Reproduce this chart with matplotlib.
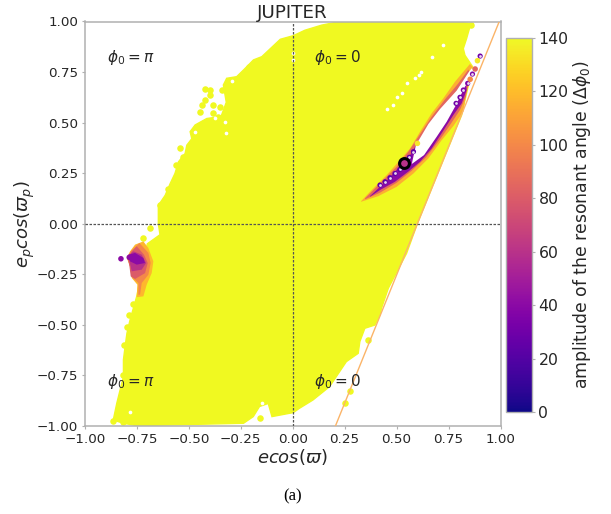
import matplotlib
matplotlib.use("Agg")
import matplotlib.pyplot as plt
from matplotlib.cm import ScalarMappable
from matplotlib.colors import Normalize

# outline of the region with amplitude 140 (yellow)
region_x = [0.003, 0.059, 0.139, 0.228, 0.749, 0.870, 0.853, 0.846, 0.837, 0.821, 0.829, 0.861,
            0.866, 0.833, 0.813, 0.600, 0.548, 0.460, 0.427, 0.420, 0.395, 0.347, 0.323, 0.315,
            0.258, 0.177, 0.097, 0.032, 0.003, -0.100, -0.118, -0.160, -0.190, -0.237, -0.750, -0.815,
            -0.864, -0.847, -0.815, -0.815, -0.807, -0.798, -0.783, -0.751, -0.719, -0.700, -0.639,
            -0.647, -0.647, -0.614, -0.590, -0.567, -0.550, -0.518, -0.510, -0.486, -0.494, -0.470,
            -0.414, -0.345, -0.320, -0.334, -0.318, -0.270, -0.237, -0.189, -0.149, -0.060]
region_y = [0.930, 0.957, 0.982, 1.000, 1.000, 0.990, 0.974, 0.949, 0.916, 0.866, 0.833, 0.784,
            0.776, 0.628, 0.537, 0.000, -0.147, -0.320, -0.419, -0.452, -0.502, -0.518, -0.584, -0.642,
            -0.683, -0.807, -0.873, -0.914, -0.935, -0.955, -0.890, -0.905, -0.955, -0.988, -1.000, -0.988,
            -0.972, -0.889, -0.757, -0.674, -0.608, -0.542, -0.476, -0.360, -0.200, -0.100, -0.055,
            0.000, 0.090, 0.140, 0.198, 0.248, 0.306, 0.347, 0.388, 0.420, 0.455, 0.488,
            0.520, 0.530, 0.600, 0.686, 0.719, 0.727, 0.760, 0.810, 0.826, 0.912]

# loose yellow points along the edge of the region
loose_x = [-0.422, -0.398, -0.398, -0.422, -0.438, -0.446, -0.382, -0.382, -0.358, -0.326, -0.318,
           -0.350, -0.342, -0.543, -0.563, -0.209, -0.639, -0.687, -0.720, -0.864, -0.815, -0.157,
           -0.799, -0.812, -0.815, 0.363, 0.274, 0.250, 0.860, -0.600, -0.530, -0.770, -0.790, -0.830]
loose_y = [0.664, 0.661, 0.636, 0.612, 0.587, 0.554, 0.587, 0.549, 0.526, 0.463, 0.545,
           0.579, 0.661, 0.375, 0.288, 0.777, 0.090, -0.020, -0.070, -0.975, -0.980, -0.964,
           -0.513, -0.600, -0.750, -0.576, -0.827, -0.889, 0.985, 0.170, 0.330, -0.400, -0.450, -0.880]

# small white gaps in the yellow region
gap_x = [0.452, 0.481, 0.504, 0.524, 0.548, 0.589, 0.609, 0.616, 0.669, 0.725,
         -0.294, -0.470, -0.323, -0.326, -0.374, -0.783, -0.149, 0.003, 0.003]
gap_y = [0.567, 0.587, 0.625, 0.644, 0.694, 0.722, 0.735, 0.752, 0.826, 0.884,
         0.707, 0.455, 0.446, 0.504, 0.521, -0.931, -0.889, 0.843, 0.810]

# crescent on the right, three amplitude levels
crescent_levels = [115, 85, 40]
crescent_x = [
    [0.329, 0.380, 0.452, 0.516, 0.565, 0.613, 0.669, 0.725, 0.781, 0.853, 0.866, 0.837, 0.833,
     0.821, 0.773, 0.717, 0.653, 0.581, 0.500, 0.412, 0.329],
    [0.348, 0.436, 0.500, 0.557, 0.610, 0.669, 0.733, 0.797, 0.846, 0.854, 0.833, 0.805, 0.757,
     0.706, 0.642, 0.573, 0.500, 0.420, 0.348],
    [0.372, 0.420, 0.468, 0.516, 0.565, 0.589, 0.621, 0.677, 0.741, 0.805, 0.833, 0.837, 0.813,
     0.773, 0.725, 0.669, 0.613, 0.556, 0.492, 0.420, 0.372],
]
crescent_y = [
    [0.111, 0.166, 0.240, 0.314, 0.372, 0.455, 0.546, 0.620, 0.702, 0.790, 0.776, 0.702, 0.628,
     0.554, 0.483, 0.413, 0.323, 0.248, 0.182, 0.136, 0.108],
    [0.125, 0.215, 0.281, 0.356, 0.438, 0.529, 0.615, 0.694, 0.763, 0.727, 0.628, 0.562, 0.488,
     0.413, 0.328, 0.262, 0.202, 0.153, 0.120],
    [0.136, 0.182, 0.229, 0.285, 0.339, 0.380, 0.430, 0.512, 0.595, 0.669, 0.702, 0.661, 0.595,
     0.537, 0.460, 0.372, 0.306, 0.257, 0.207, 0.166, 0.133],
]

# empty lens inside the crescent
lens_x = [0.573, 0.593, 0.653, 0.709, 0.789, 0.846, 0.861, 0.885, 0.829, 0.813, 0.781, 0.741, 0.693, 0.632]
lens_y = [0.295, 0.389, 0.493, 0.567, 0.658, 0.748, 0.768, 0.752, 0.678, 0.644, 0.578, 0.504, 0.430, 0.339]

# single points with their amplitudes
ring_x = [0.420, 0.444, 0.468, 0.492, 0.516, 0.540, 0.561, 0.581, 0.786, 0.805, 0.821, 0.842, 0.865, 0.902]
ring_y = [0.191, 0.207, 0.227, 0.248, 0.268, 0.290, 0.328, 0.356, 0.595, 0.625, 0.661, 0.694, 0.740, 0.829]
ring_amp = [25, 25, 25, 25, 25, 25, 25, 25, 30, 30, 35, 35, 35, 30]
dot_x = [0.600, 0.854, 0.878, 0.889, -0.827, -0.787]
dot_y = [0.397, 0.714, 0.765, 0.806, -0.174, -0.167]
dot_amp = [135, 100, 85, 135, 40, 40]

# patch on the left
patch_levels = [118, 100, 80, 60, 40]
patch_x = [
    [-0.719, -0.695, -0.671, -0.679, -0.703, -0.719, -0.751, -0.748, -0.775, -0.783, -0.799, -0.783, -0.759],
    [-0.738, -0.695, -0.684, -0.695, -0.727, -0.735, -0.743, -0.743, -0.775, -0.783, -0.796, -0.780],
    [-0.751, -0.716, -0.698, -0.711, -0.759, -0.780, -0.786, -0.794, -0.775],
    [-0.767, -0.727, -0.706, -0.727, -0.775, -0.786, -0.794],
    [-0.791, -0.759, -0.719, -0.711, -0.751, -0.783],
]
patch_y = [
    [-0.088, -0.121, -0.187, -0.245, -0.302, -0.360, -0.364, -0.302, -0.269, -0.212, -0.170, -0.137, -0.104],
    [-0.096, -0.145, -0.195, -0.253, -0.294, -0.352, -0.352, -0.294, -0.264, -0.212, -0.170, -0.137],
    [-0.112, -0.154, -0.195, -0.245, -0.274, -0.261, -0.212, -0.170, -0.137],
    [-0.137, -0.154, -0.195, -0.228, -0.236, -0.187, -0.162],
    [-0.154, -0.145, -0.170, -0.195, -0.203, -0.187],
]

# limit line and the marked planet
limit_x = [0.206, 0.994]
limit_y = [-1.0, 1.0]
planet_x = [0.536]
planet_y = [0.298]
planet_amp = [60]

ticks = [-1.0, -0.75, -0.5, -0.25, 0.0, 0.25, 0.5, 0.75, 1.0]
cbar_ticks = [0, 20, 40, 60, 80, 100, 120, 140]

text_col = "#262626"
frame_col = "#b0b0b0"
cmap = plt.get_cmap("plasma")
norm = Normalize(0, 140)

fig = plt.figure(figsize=(6.11, 5.14), dpi=100)
ax = fig.add_axes([85 / 611, 1 - 425.7 / 514, 415.5 / 611, 404.2 / 514])

ax.fill(region_x, region_y, color=cmap(norm(140)), lw=1, zorder=1)
ax.scatter(loose_x, loose_y, s=22, color=cmap(norm(140)), lw=0, zorder=1)
ax.scatter(gap_x, gap_y, s=7, color="white", lw=0, zorder=1.5)

for lev, xs, ys in zip(crescent_levels, crescent_x, crescent_y):
    ax.fill(xs, ys, color=cmap(norm(lev)), lw=0, zorder=2)
for lev, xs, ys in zip(patch_levels, patch_x, patch_y):
    ax.fill(xs, ys, color=cmap(norm(lev)), lw=0, zorder=2)
ax.fill(lens_x, lens_y, color="white", lw=0, zorder=2.5)

ax.plot(limit_x, limit_y, color="#fbb468", lw=1, zorder=2.6)
ax.scatter(ring_x, ring_y, s=14, c=ring_amp, cmap=cmap, norm=norm, lw=0, zorder=3)
ax.scatter(ring_x, ring_y, s=4, color="#e8d8ee", lw=0, zorder=3.1)
ax.scatter(dot_x, dot_y, s=16, c=dot_amp, cmap=cmap, norm=norm, lw=0, zorder=3)

ax.axhline(0, color="#555555", lw=0.9, ls="--", dashes=(2, 1.2), zorder=4)
ax.axvline(0, color="#555555", lw=0.9, ls="--", dashes=(2, 1.2), zorder=4)

ax.scatter(planet_x, planet_y, s=50, c=planet_amp, cmap=cmap, norm=norm,
           edgecolors="black", linewidths=2.2, zorder=5)

ax.text(-0.895, 0.82, r"$\phi_0 = \pi$", fontsize=11, color=text_col, va="center", zorder=6)
ax.text(0.10, 0.82, r"$\phi_0 = 0$", fontsize=11, color=text_col, va="center", zorder=6)
ax.text(-0.895, -0.78, r"$\phi_0 = \pi$", fontsize=11, color=text_col, va="center", zorder=6)
ax.text(0.10, -0.78, r"$\phi_0 = 0$", fontsize=11, color=text_col, va="center", zorder=6)

ax.set_xlim(-1, 1)
ax.set_ylim(-1, 1)
ax.set_xticks(ticks)
ax.set_yticks(ticks)
ax.set_xticklabels([f"{t:.2f}".replace("-", "\u2212") for t in ticks])
ax.set_yticklabels([f"{t:.2f}".replace("-", "\u2212") for t in ticks])
ax.tick_params(labelsize=9.7, labelcolor=text_col, color=frame_col, length=2, width=0.8, pad=3)
for sp in ax.spines.values():
    sp.set_color(frame_col)
    sp.set_linewidth(1.1)
ax.set_xlabel(r"$ecos(\varpi)$", fontsize=13, color=text_col, labelpad=1)
ax.set_ylabel(r"$e_pcos(\varpi_p)$", fontsize=13, color=text_col, labelpad=0)
ax.set_title("JUPITER", fontsize=13.2, color=text_col, pad=1.5)

cax = fig.add_axes([505.7 / 611, 1 - 412 / 514, 26.5 / 611, 374.3 / 514])
cb = fig.colorbar(ScalarMappable(norm=norm, cmap=cmap), cax=cax, ticks=cbar_ticks)
cb.ax.tick_params(labelsize=11.3, labelcolor=text_col, color=frame_col, length=2, width=0.8, pad=2.5)
cb.outline.set_edgecolor(frame_col)
cb.outline.set_linewidth(1.0)
cb.set_label(r"amplitude of the resonant angle ($\Delta\phi_0$)", fontsize=12.4, color=text_col, labelpad=2)

fig.text(293 / 611, 1 - 496 / 514, "(a)", fontsize=12, family="Liberation Serif",
         color="black", ha="center", va="center")

fig.savefig("out.png", dpi=100)
